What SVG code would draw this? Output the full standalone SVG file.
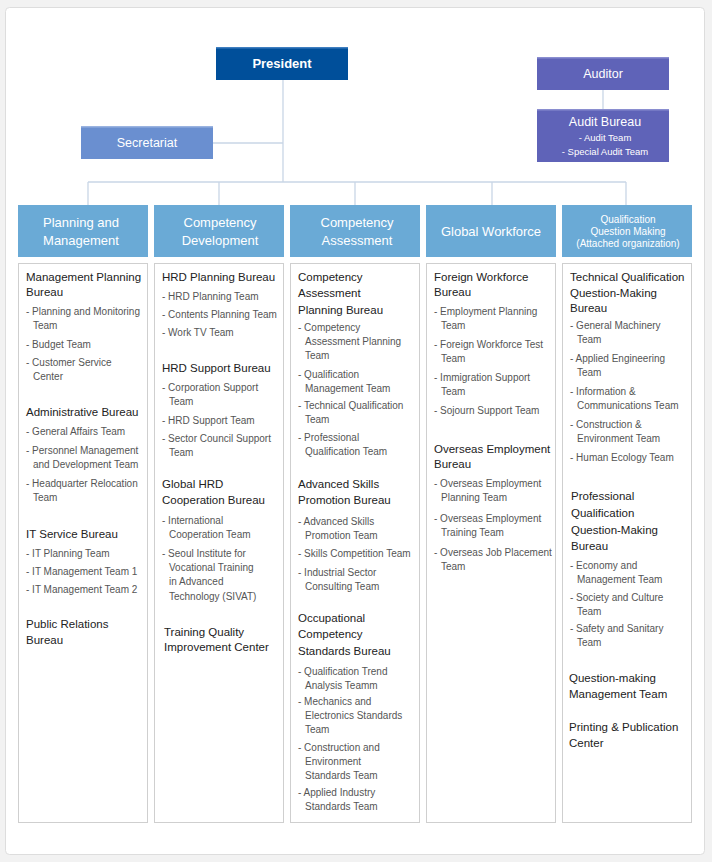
<svg xmlns="http://www.w3.org/2000/svg" width="712" height="862" viewBox="0 0 712 862">
<style>
text{font-family:"Liberation Sans",Arial,sans-serif}
.w{fill:#fff;text-anchor:middle}
.b{font-size:11.5px;fill:#222}
.t{font-size:10px;fill:#555}
.hd{fill:#6aaad6}
.box{fill:#fff;stroke:#cfcfcf}
.cn{stroke:#c9d6e6;stroke-width:1.3;fill:none}
</style>
<rect x="0" y="0" width="712" height="862" fill="#f2f2f2"/>
<rect x="5.5" y="7.5" width="699" height="847" rx="4" fill="#fff" stroke="#ddd"/>
<g id="connectors" class="cn">
<path d="M283 80V182M213 143H283M603 90V109M88 182H626M88 182V205M219 182V205M355 182V205M492 182V205M626 182V205"/>
</g>
<g id="president"><rect x="216" y="47" width="132" height="33" fill="#004f9a"/><rect x="216" y="47" width="132" height="1.5" fill="#3f7fc0"/><text class="w" x="282" y="68" font-size="13" font-weight="bold">President</text></g>
<g id="auditor"><rect x="537" y="57" width="132" height="33" fill="#5f63b8"/><rect x="537" y="57" width="132" height="1.5" fill="#8a8ed0"/><text class="w" x="603" y="78" font-size="12.5">Auditor</text></g>
<g id="audit-bureau"><rect x="537" y="109" width="132" height="53" fill="#5f63b8"/><rect x="537" y="109" width="132" height="1.5" fill="#8a8ed0"/><text class="w" x="605" y="126" font-size="12.5">Audit Bureau</text><text class="w" x="605" y="141" font-size="9.5">- Audit Team</text><text class="w" x="605" y="155" font-size="9.5">- Special Audit Team</text></g>
<g id="secretariat"><rect x="81" y="126" width="132" height="33" fill="#6a8fd0"/><rect x="81" y="126" width="132" height="1.5" fill="#9ab3e0"/><text class="w" x="147" y="147" font-size="12.5">Secretariat</text></g>

<g id="col1"><rect class="hd" x="18" y="205" width="130" height="52"/><text class="w" x="81" y="227" font-size="13">Planning and</text><text class="w" x="81" y="245" font-size="13">Management</text>
<rect class="box" x="18.5" y="263.5" width="129" height="559"/>
<text class="b" x="26" y="281">Management Planning</text><text class="b" x="26" y="296">Bureau</text>
<text class="t" x="26" y="315">- Planning and Monitoring</text><text class="t" x="33" y="329">Team</text>
<text class="t" x="26" y="348">- Budget Team</text>
<text class="t" x="26" y="366">- Customer Service</text><text class="t" x="33" y="380">Center</text>
<text class="b" x="26" y="416">Administrative Bureau</text>
<text class="t" x="26" y="435">- General Affairs Team</text>
<text class="t" x="26" y="454">- Personnel Management</text><text class="t" x="33" y="468">and Development Team</text>
<text class="t" x="26" y="487">- Headquarter Relocation</text><text class="t" x="33" y="501">Team</text>
<text class="b" x="26" y="538">IT Service Bureau</text>
<text class="t" x="26" y="557">- IT Planning Team</text>
<text class="t" x="26" y="575">- IT Management Team 1</text>
<text class="t" x="26" y="593">- IT Management Team 2</text>
<text class="b" x="26" y="628">Public Relations</text><text class="b" x="26" y="644">Bureau</text>
</g>

<g id="col2"><rect class="hd" x="154" y="205" width="130" height="52"/><text class="w" x="220" y="227" font-size="13">Competency</text><text class="w" x="220" y="245" font-size="13">Development</text>
<rect class="box" x="154.5" y="263.5" width="129" height="559"/>
<text class="b" x="162" y="281">HRD Planning Bureau</text>
<text class="t" x="162" y="300">- HRD Planning Team</text>
<text class="t" x="162" y="318">- Contents Planning Team</text>
<text class="t" x="162" y="336">- Work TV Team</text>
<text class="b" x="162" y="372">HRD Support Bureau</text>
<text class="t" x="162" y="391">- Corporation Support</text><text class="t" x="169" y="405">Team</text>
<text class="t" x="162" y="424">- HRD Support Team</text>
<text class="t" x="162" y="442">- Sector Council Support</text><text class="t" x="169" y="456">Team</text>
<text class="b" x="162" y="488">Global HRD</text><text class="b" x="162" y="504">Cooperation Bureau</text>
<text class="t" x="162" y="524">- International</text><text class="t" x="169" y="538">Cooperation Team</text>
<text class="t" x="162" y="557">- Seoul Institute for</text><text class="t" x="169" y="571">Vocational Training</text><text class="t" x="169" y="585">in Advanced</text><text class="t" x="169" y="600">Technology (SIVAT)</text>
<text class="b" x="164" y="636">Training Quality</text><text class="b" x="164" y="651">Improvement Center</text>
</g>

<g id="col3"><rect class="hd" x="290" y="205" width="130" height="52"/><text class="w" x="357" y="227" font-size="13">Competency</text><text class="w" x="357" y="245" font-size="13">Assessment</text>
<rect class="box" x="290.5" y="263.5" width="129" height="559"/>
<text class="b" x="298" y="281">Competency</text><text class="b" x="298" y="297">Assessment</text><text class="b" x="298" y="314">Planning Bureau</text>
<text class="t" x="298" y="331">- Competency</text><text class="t" x="305" y="345">Assessment Planning</text><text class="t" x="305" y="359">Team</text>
<text class="t" x="298" y="378">- Qualification</text><text class="t" x="305" y="392">Management Team</text>
<text class="t" x="298" y="409">- Technical Qualification</text><text class="t" x="305" y="423">Team</text>
<text class="t" x="298" y="441">- Professional</text><text class="t" x="305" y="455">Qualification Team</text>
<text class="b" x="298" y="488">Advanced Skills</text><text class="b" x="298" y="504">Promotion Bureau</text>
<text class="t" x="298" y="525">- Advanced Skills</text><text class="t" x="305" y="539">Promotion Team</text>
<text class="t" x="298" y="557">- Skills Competition Team</text>
<text class="t" x="298" y="576">- Industrial Sector</text><text class="t" x="305" y="590">Consulting Team</text>
<text class="b" x="298" y="622">Occupational</text><text class="b" x="298" y="638">Competency</text><text class="b" x="298" y="655">Standards Bureau</text>
<text class="t" x="298" y="675">- Qualification Trend</text><text class="t" x="305" y="689">Analysis Teamm</text>
<text class="t" x="298" y="705">- Mechanics and</text><text class="t" x="305" y="719">Electronics Standards</text><text class="t" x="305" y="733">Team</text>
<text class="t" x="298" y="751">- Construction and</text><text class="t" x="305" y="765">Environment</text><text class="t" x="305" y="779">Standards Team</text>
<text class="t" x="298" y="796">- Applied Industry</text><text class="t" x="305" y="810">Standards Team</text>
</g>

<g id="col4"><rect class="hd" x="426" y="205" width="130" height="52"/><text class="w" x="491" y="236" font-size="13">Global Workforce</text>
<rect class="box" x="426.5" y="263.5" width="129" height="559"/>
<text class="b" x="434" y="281">Foreign Workforce</text><text class="b" x="434" y="296">Bureau</text>
<text class="t" x="434" y="315">- Employment Planning</text><text class="t" x="441" y="329">Team</text>
<text class="t" x="434" y="348">- Foreign Workforce Test</text><text class="t" x="441" y="362">Team</text>
<text class="t" x="434" y="381">- Immigration Support</text><text class="t" x="441" y="395">Team</text>
<text class="t" x="434" y="414">- Sojourn Support Team</text>
<text class="b" x="434" y="453">Overseas Employment</text><text class="b" x="434" y="468">Bureau</text>
<text class="t" x="434" y="487">- Overseas Employment</text><text class="t" x="441" y="501">Planning Team</text>
<text class="t" x="434" y="522">- Overseas Employment</text><text class="t" x="441" y="536">Training Team</text>
<text class="t" x="434" y="556">- Overseas Job Placement</text><text class="t" x="441" y="570">Team</text>
</g>

<g id="col5"><rect class="hd" x="562" y="205" width="130" height="52"/><text class="w" x="628" y="223" font-size="10">Qualification</text><text class="w" x="628" y="235" font-size="10">Question Making</text><text class="w" x="628" y="247" font-size="10">(Attached organization)</text>
<rect class="box" x="562.5" y="263.5" width="129" height="559"/>
<text class="b" x="570" y="281">Technical Qualification</text><text class="b" x="570" y="297">Question-Making</text><text class="b" x="570" y="312">Bureau</text>
<text class="t" x="570" y="329">- General Machinery</text><text class="t" x="577" y="343">Team</text>
<text class="t" x="570" y="362">- Applied Engineering</text><text class="t" x="577" y="376">Team</text>
<text class="t" x="570" y="395">- Information &amp;</text><text class="t" x="577" y="409">Communications Team</text>
<text class="t" x="570" y="428">- Construction &amp;</text><text class="t" x="577" y="442">Environment Team</text>
<text class="t" x="570" y="461">- Human Ecology Team</text>
<text class="b" x="571" y="500">Professional</text><text class="b" x="571" y="517">Qualification</text><text class="b" x="571" y="534">Question-Making</text><text class="b" x="571" y="550">Bureau</text>
<text class="t" x="570" y="569">- Economy and</text><text class="t" x="577" y="583">Management Team</text>
<text class="t" x="570" y="601">- Society and Culture</text><text class="t" x="577" y="615">Team</text>
<text class="t" x="570" y="632">- Safety and Sanitary</text><text class="t" x="577" y="646">Team</text>
<text class="b" x="569" y="682">Question-making</text><text class="b" x="569" y="698">Management Team</text>
<text class="b" x="569" y="731">Printing &amp; Publication</text><text class="b" x="569" y="747">Center</text>
</g>
</svg>
